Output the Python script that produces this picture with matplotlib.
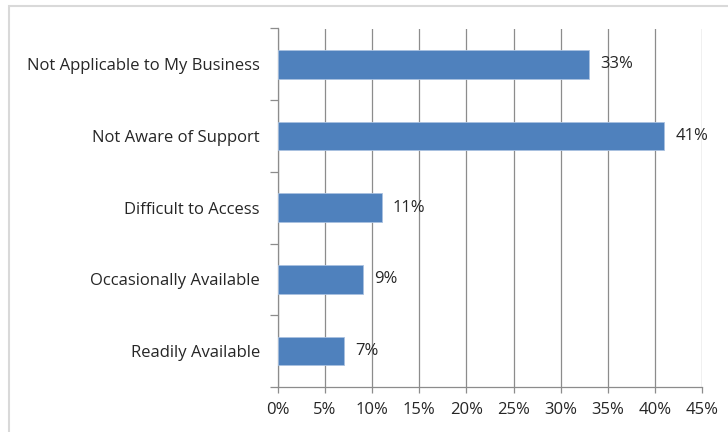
import numpy as np
import matplotlib.pyplot as plt
from matplotlib.patches import Rectangle
from matplotlib.ticker import FuncFormatter, FixedLocator

categories = ["Readily Available", "Occasionally Available", "Difficult to Access",
              "Not Aware of Support", "Not Applicable to My Business"]
shares = [7, 9, 11, 41, 33]
x_ticks = list(range(0, 50, 5))

plt.rcParams["font.family"] = ["Open Sans", "DejaVu Sans"]
TEXT = "#262626"
GRID = "#8c8c8c"

fig = plt.figure(figsize=(7.28, 4.32), dpi=100)
fig.patches.append(Rectangle((9 / 728, -0.05), 1.0, 1 - 6 / 432 + 0.05,
                             transform=fig.transFigure, fill=False,
                             edgecolor="#d9d9d9", lw=1.5))
ax = fig.add_axes([278 / 728, 45 / 432, 424 / 728, 358.5 / 432])

y = np.arange(len(categories))
ax.barh(y, shares, height=0.4, color="#4f81bd", edgecolor="#a9c1e0", lw=0.6,
        zorder=3)
for yi, v in zip(y, shares):
    ax.text(v + 1.2, yi, f"{v}%", va="center", ha="left", fontsize=12,
            color=TEXT)

ax.set_xlim(0, 45)
ax.set_ylim(-0.5, len(categories) - 0.5)
ax.xaxis.set_major_locator(FixedLocator(x_ticks))
ax.xaxis.set_major_formatter(FuncFormatter(lambda v, _: f"{v:.0f}%"))
ax.grid(axis="x", color=GRID, lw=0.9, zorder=0)

ax.set_yticks(y)
ax.set_yticklabels(categories)
ax.yaxis.set_minor_locator(FixedLocator(np.arange(-0.5, len(categories), 1.0)))
ax.tick_params(axis="y", which="major", length=0, pad=13, labelsize=12,
               labelcolor=TEXT)
ax.tick_params(axis="y", which="minor", length=6, color=GRID, width=0.9)
ax.tick_params(axis="x", length=4, color=GRID, width=0.9, pad=7,
               labelsize=12, labelcolor=TEXT)

for side in ("top", "right"):
    ax.spines[side].set_visible(False)
for side in ("left", "bottom"):
    ax.spines[side].set_color(GRID)
    ax.spines[side].set_linewidth(0.9)

fig.savefig("out.png", dpi=100)
